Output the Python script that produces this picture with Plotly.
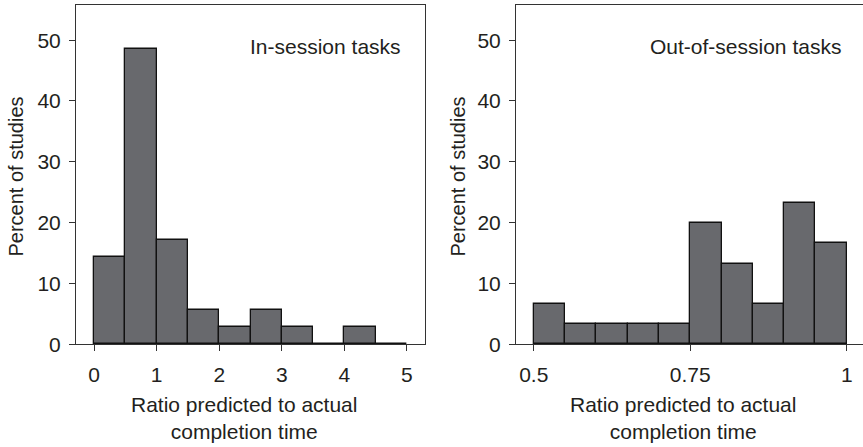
import plotly.graph_objects as go

# Data
left_bin_starts = [0, 0.5, 1.0, 1.5, 2.0, 2.5, 3.0, 3.5, 4.0, 4.5]
left_bin_width = 0.5
left_percent = [14.3, 48.6, 17.1, 5.7, 2.9, 5.7, 2.9, 0, 2.9, 0]

right_bin_starts = [0.50, 0.55, 0.60, 0.65, 0.70, 0.75, 0.80, 0.85, 0.90, 0.95]
right_bin_width = 0.05
right_percent = [6.7, 3.3, 3.3, 3.3, 3.3, 20.0, 13.3, 6.7, 23.3, 16.7]

left_ticks = [0, 1, 2, 3, 4, 5]
left_ticklabels = ["0", "1", "2", "3", "4", "5"]
right_ticks = [0.5, 0.75, 1.0]
right_ticklabels = ["0.5", "0.75", "1"]
y_ticks = [0, 10, 20, 30, 40, 50]

panel_labels = ["In-session tasks", "Out-of-session tasks"]
x_title = "Ratio predicted to actual<br>completion time"
y_title = "Percent of studies"

W, H = 863, 447
FONT = "Liberation Sans, Arial, Helvetica, sans-serif"
TXT = "#231f20"
BAR = "#68696d"

def px_x(p):
    return p / W

def px_y(p):
    return (H - p) / H

fig = go.Figure()
fig.add_trace(go.Bar(
    x=[s + left_bin_width / 2 for s in left_bin_starts], y=left_percent,
    width=[left_bin_width] * len(left_bin_starts),
    marker=dict(color=BAR, line=dict(color="#111111", width=1.3)),
    xaxis="x", yaxis="y", showlegend=False,
))
fig.add_trace(go.Bar(
    x=[s + right_bin_width / 2 for s in right_bin_starts], y=right_percent,
    width=[right_bin_width] * len(right_bin_starts),
    marker=dict(color=BAR, line=dict(color="#111111", width=1.3)),
    xaxis="x2", yaxis="y2", showlegend=False,
))

ydom = [px_y(353), px_y(5)]
axis_base = dict(showline=True, linecolor="#333333", linewidth=1,
                 showgrid=False, zeroline=False, ticks="outside", tickcolor="#333333",
                 tickfont=dict(family=FONT, size=21, color=TXT))

fig.update_layout(
    width=W, height=H, margin=dict(l=0, r=0, t=0, b=0),
    paper_bgcolor="white", plot_bgcolor="white",
    bargap=0,
    xaxis=dict(domain=[px_x(76), px_x(425)], range=[-0.29, 5.29], anchor="y",
               tickvals=left_ticks, ticktext=left_ticklabels, ticklen=6, mirror=True,
               ticklabelstandoff=5, **axis_base),
    yaxis=dict(domain=ydom, range=[0, 55.8], anchor="x", mirror=True,
               tickvals=y_ticks, ticklen=6, ticklabelstandoff=4, **axis_base),
    xaxis2=dict(domain=[px_x(516), 1.0], range=[0.4717, 1.026], anchor="y2",
                tickvals=right_ticks, ticktext=right_ticklabels, ticklen=6, mirror=True,
                ticklabelstandoff=5, **axis_base),
    yaxis2=dict(domain=ydom, range=[0, 55.8], anchor="x2", mirror=False,
                tickvals=y_ticks, ticklen=6, ticklabelstandoff=4, **axis_base),
)

ann_font = dict(family=FONT, size=21, color=TXT)
yt_font = dict(family=FONT, size=20, color=TXT)
annotations = [
    dict(text=panel_labels[0], x=px_x(325), y=px_y(48), xref="paper", yref="paper",
         showarrow=False, font=ann_font, xanchor="center", yanchor="middle"),
    dict(text=panel_labels[1], x=px_x(745), y=px_y(48), xref="paper", yref="paper",
         showarrow=False, font=ann_font, xanchor="center", yanchor="middle"),
    dict(text=x_title, x=px_x(244), y=px_y(429), xref="paper", yref="paper",
         showarrow=False, font=ann_font, xanchor="center", yanchor="middle"),
    dict(text=x_title, x=px_x(683), y=px_y(429), xref="paper", yref="paper",
         showarrow=False, font=ann_font, xanchor="center", yanchor="middle"),
    dict(text=y_title, x=px_x(16), y=px_y(181), xref="paper", yref="paper", textangle=-90,
         showarrow=False, font=yt_font, xanchor="center", yanchor="middle"),
    dict(text=y_title, x=px_x(458), y=px_y(181), xref="paper", yref="paper", textangle=-90,
         showarrow=False, font=yt_font, xanchor="center", yanchor="middle"),
]
fig.update_layout(annotations=annotations)

fig.write_html("out.html")
